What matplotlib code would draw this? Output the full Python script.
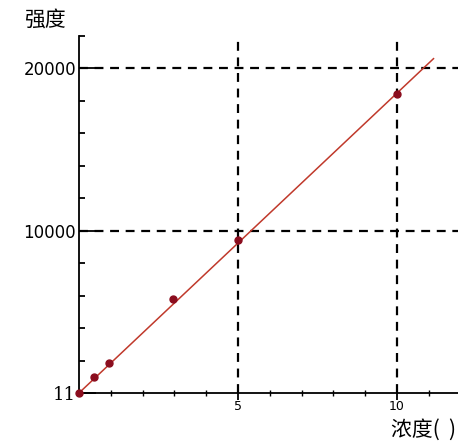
import numpy as np
import matplotlib.pyplot as plt

plt.rcParams['font.family'] = ['Noto Sans CJK SC', 'DejaVu Sans']

# measured points (concentration, intensity)
conc = [0, 0.47, 0.94, 2.95, 5, 10]
intensity = [0, 990, 1850, 5800, 9440, 18400]

# fitted line end points
fit_x = [0, 11.15]
fit_y = [0, 20600]

yticks = [0, 10000, 20000]
ytick_labels = ['11', '10000', '20000']
xticks = [5, 10]
xtick_labels = ['5', '10']

fig = plt.figure(figsize=(4.58, 4.48), dpi=100)
ax = fig.add_axes([0.1725, 0.1228, 0.8275, 0.797])
ax.set_xlim(0, 11.92)
ax.set_ylim(0, 22000)

dash = dict(color='black', linewidth=1.6, linestyle=(0, (4, 3)), zorder=1)
for yv in [10000, 20000]:
    ax.axhline(yv, **dash)
for xv in xticks:
    ax.axvline(xv, **dash)

ax.plot(fit_x, fit_y, color='#c0392b', linewidth=1.1, zorder=2, clip_on=False)
ax.plot(conc, intensity, 'o', color='#8b0d1e', markersize=5, zorder=4, clip_on=False)

for s in ['top', 'right']:
    ax.spines[s].set_visible(False)
for s in ['left', 'bottom']:
    ax.spines[s].set_linewidth(1.3)

ax.set_yticks(yticks)
ax.set_yticklabels(ytick_labels, fontsize=12, family='DejaVu Sans')
ax.set_yticks(np.arange(2000, 22001, 2000), minor=True)
ax.set_xticks(xticks)
ax.set_xticklabels(xtick_labels, fontsize=9, family='DejaVu Sans')
ax.set_xticks(np.arange(1, 12), minor=True)
ax.tick_params(axis='y', which='major', direction='in', length=12, width=1.3, pad=2)
ax.tick_params(axis='y', which='minor', direction='in', length=4, width=1.3)
ax.tick_params(axis='x', which='major', direction='inout', length=10, width=1.3, pad=0)
ax.tick_params(axis='x', which='minor', direction='inout', length=5, width=1.0)
ax.get_yticklabels()[0].set_family('DejaVu Serif')
ax.get_yticklabels()[0].set_fontsize(13)

fig.text(0.098, 0.955, '强度', fontsize=15, ha='center', va='center')
fig.text(0.995, 0.04, '浓度(  )', fontsize=15, ha='right', va='center')

fig.savefig('out.png', dpi=100)
